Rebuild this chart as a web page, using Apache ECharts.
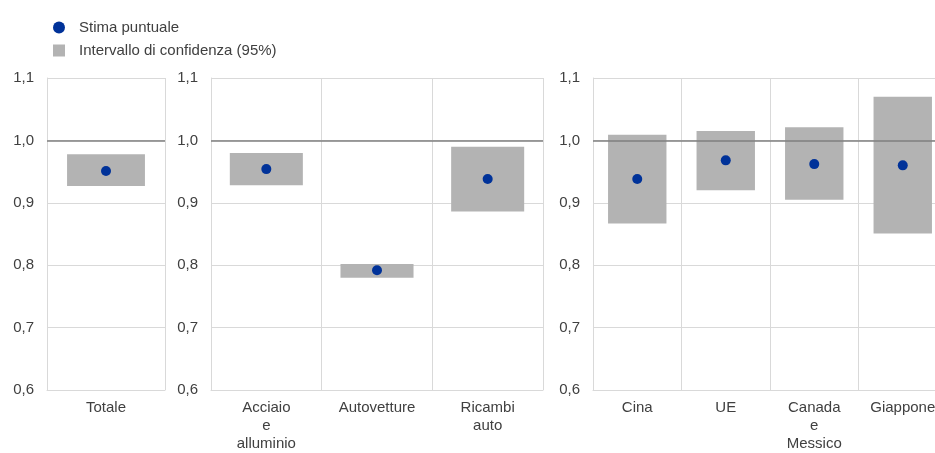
<!DOCTYPE html>
<html>
<head>
<meta charset="utf-8">
<script src="https://cdn.jsdelivr.net/npm/echarts@6/dist/echarts.min.js"></script>
<style>
  html, body { margin: 0; padding: 0; background: #ffffff; overflow: hidden; }
  #wrap { width: 935px; height: 453px; overflow: hidden; }
  #chart { width: 947px; height: 453px; }
</style>
</head>
<body>
<div id="wrap"><div id="chart"></div></div>
<script>
// Panel 1: overall estimate
var totaleCategories = ['Totale'];
var totaleLow   = [0.927];
var totaleHigh  = [0.978];
var totalePoint = [0.951];

// Panel 2: by product
var sectorCategories = ['Acciaio\ne\nalluminio', 'Autovetture', 'Ricambi\nauto'];
var sectorLow   = [0.928, 0.780, 0.886];
var sectorHigh  = [0.980, 0.802, 0.990];
var sectorPoint = [0.954, 0.792, 0.938];

// Panel 3: by partner
var countryCategories = ['Cina', 'UE', 'Canada\ne\nMessico', 'Giappone'];
var countryLow   = [0.867, 0.920, 0.905, 0.851];
var countryHigh  = [1.009, 1.015, 1.021, 1.070];
var countryPoint = [0.938, 0.968, 0.962, 0.960];

// Y-axis ticks
var yMin = 0.6, yMax = 1.1, yStep = 0.1;

var FONT = "'Liberation Sans', Arial, sans-serif";
var TEXT = '#404040';
var GRIDLINE = '#d9d9d9';
var BAND = '#b3b3b3';
var DOT = '#003299';
var POINT_NAME = 'Stima puntuale';
var BAND_NAME = 'Intervallo di confidenza (95%)';

// the third panel runs past the visible right edge of the page
var panels = [
  { cats: totaleCategories, low: totaleLow, high: totaleHigh, pt: totalePoint,
    grid: { left: 47, top: 78, width: 118, height: 312 } },
  { cats: sectorCategories, low: sectorLow, high: sectorHigh, pt: sectorPoint,
    grid: { left: 211, top: 78, width: 332, height: 316 } },
  { cats: countryCategories, low: countryLow, high: countryHigh, pt: countryPoint,
    grid: { left: 593, top: 78, width: 354, height: 315 } }
];

var grids = [], xAxes = [], yAxes = [], series = [];

panels.forEach(function (p, i) {
  grids.push(Object.assign({ containLabel: false }, p.grid));
  xAxes.push({
    type: 'category',
    gridIndex: i,
    data: p.cats,
    boundaryGap: true,
    axisLine: { show: true, lineStyle: { color: GRIDLINE, width: 1 } },
    axisTick: { show: false },
    splitLine: { show: true, interval: 0, lineStyle: { color: GRIDLINE, width: 1 } },
    axisLabel: {
      interval: 0, margin: 9, color: TEXT, fontFamily: FONT,
      fontSize: 15, lineHeight: 18, align: 'center'
    }
  });
  yAxes.push({
    type: 'value',
    gridIndex: i,
    min: yMin, max: yMax, interval: yStep,
    axisLine: { show: true, lineStyle: { color: GRIDLINE, width: 1 } },
    axisTick: { show: false },
    splitLine: { show: true, lineStyle: { color: GRIDLINE, width: 1 } },
    axisLabel: {
      margin: 13, color: TEXT, fontFamily: FONT, fontSize: 15,
      formatter: function (v) { return Number(v).toFixed(1).replace('.', ','); }
    }
  });
  var stackId = 'ci' + i;
  // invisible base up to the lower bound
  series.push({
    name: 'base' + i,
    type: 'bar',
    xAxisIndex: i, yAxisIndex: i,
    stack: stackId,
    barWidth: '66%',
    itemStyle: { color: 'rgba(0,0,0,0)' },
    silent: true,
    data: p.low
  });
  // confidence band from lower to upper bound
  series.push({
    name: BAND_NAME,
    type: 'bar',
    xAxisIndex: i, yAxisIndex: i,
    stack: stackId,
    barWidth: '66%',
    itemStyle: { color: BAND },
    data: p.high.map(function (h, k) { return h - p.low[k]; }),
    markLine: {
      silent: true,
      symbol: 'none',
      label: { show: false },
      lineStyle: { color: '#7f7f7f', width: 1.6, type: 'solid' },
      data: [{ yAxis: 1.0 }]
    },
    z: 2
  });
  series.push({
    name: POINT_NAME,
    type: 'scatter',
    xAxisIndex: i, yAxisIndex: i,
    symbol: 'circle',
    symbolSize: 10,
    itemStyle: { color: DOT, opacity: 1 },
    data: p.pt,
    z: 5
  });
});

var chart = echarts.init(document.getElementById('chart'), null, { renderer: 'canvas' });
chart.setOption({
  animation: false,
  backgroundColor: '#ffffff',
  legend: {
    orient: 'vertical',
    left: 48, top: 15,
    itemWidth: 12, itemHeight: 12,
    itemGap: 8,
    selectedMode: false,
    textStyle: { color: TEXT, fontFamily: FONT, fontSize: 15, lineHeight: 15, padding: [0, 0, 0, 9] },
    data: [
      { name: POINT_NAME, icon: 'circle', itemStyle: { color: DOT, opacity: 1 } },
      { name: BAND_NAME, icon: 'rect' }
    ]
  },
  grid: grids,
  xAxis: xAxes,
  yAxis: yAxes,
  series: series
});
</script>
</body>
</html>
